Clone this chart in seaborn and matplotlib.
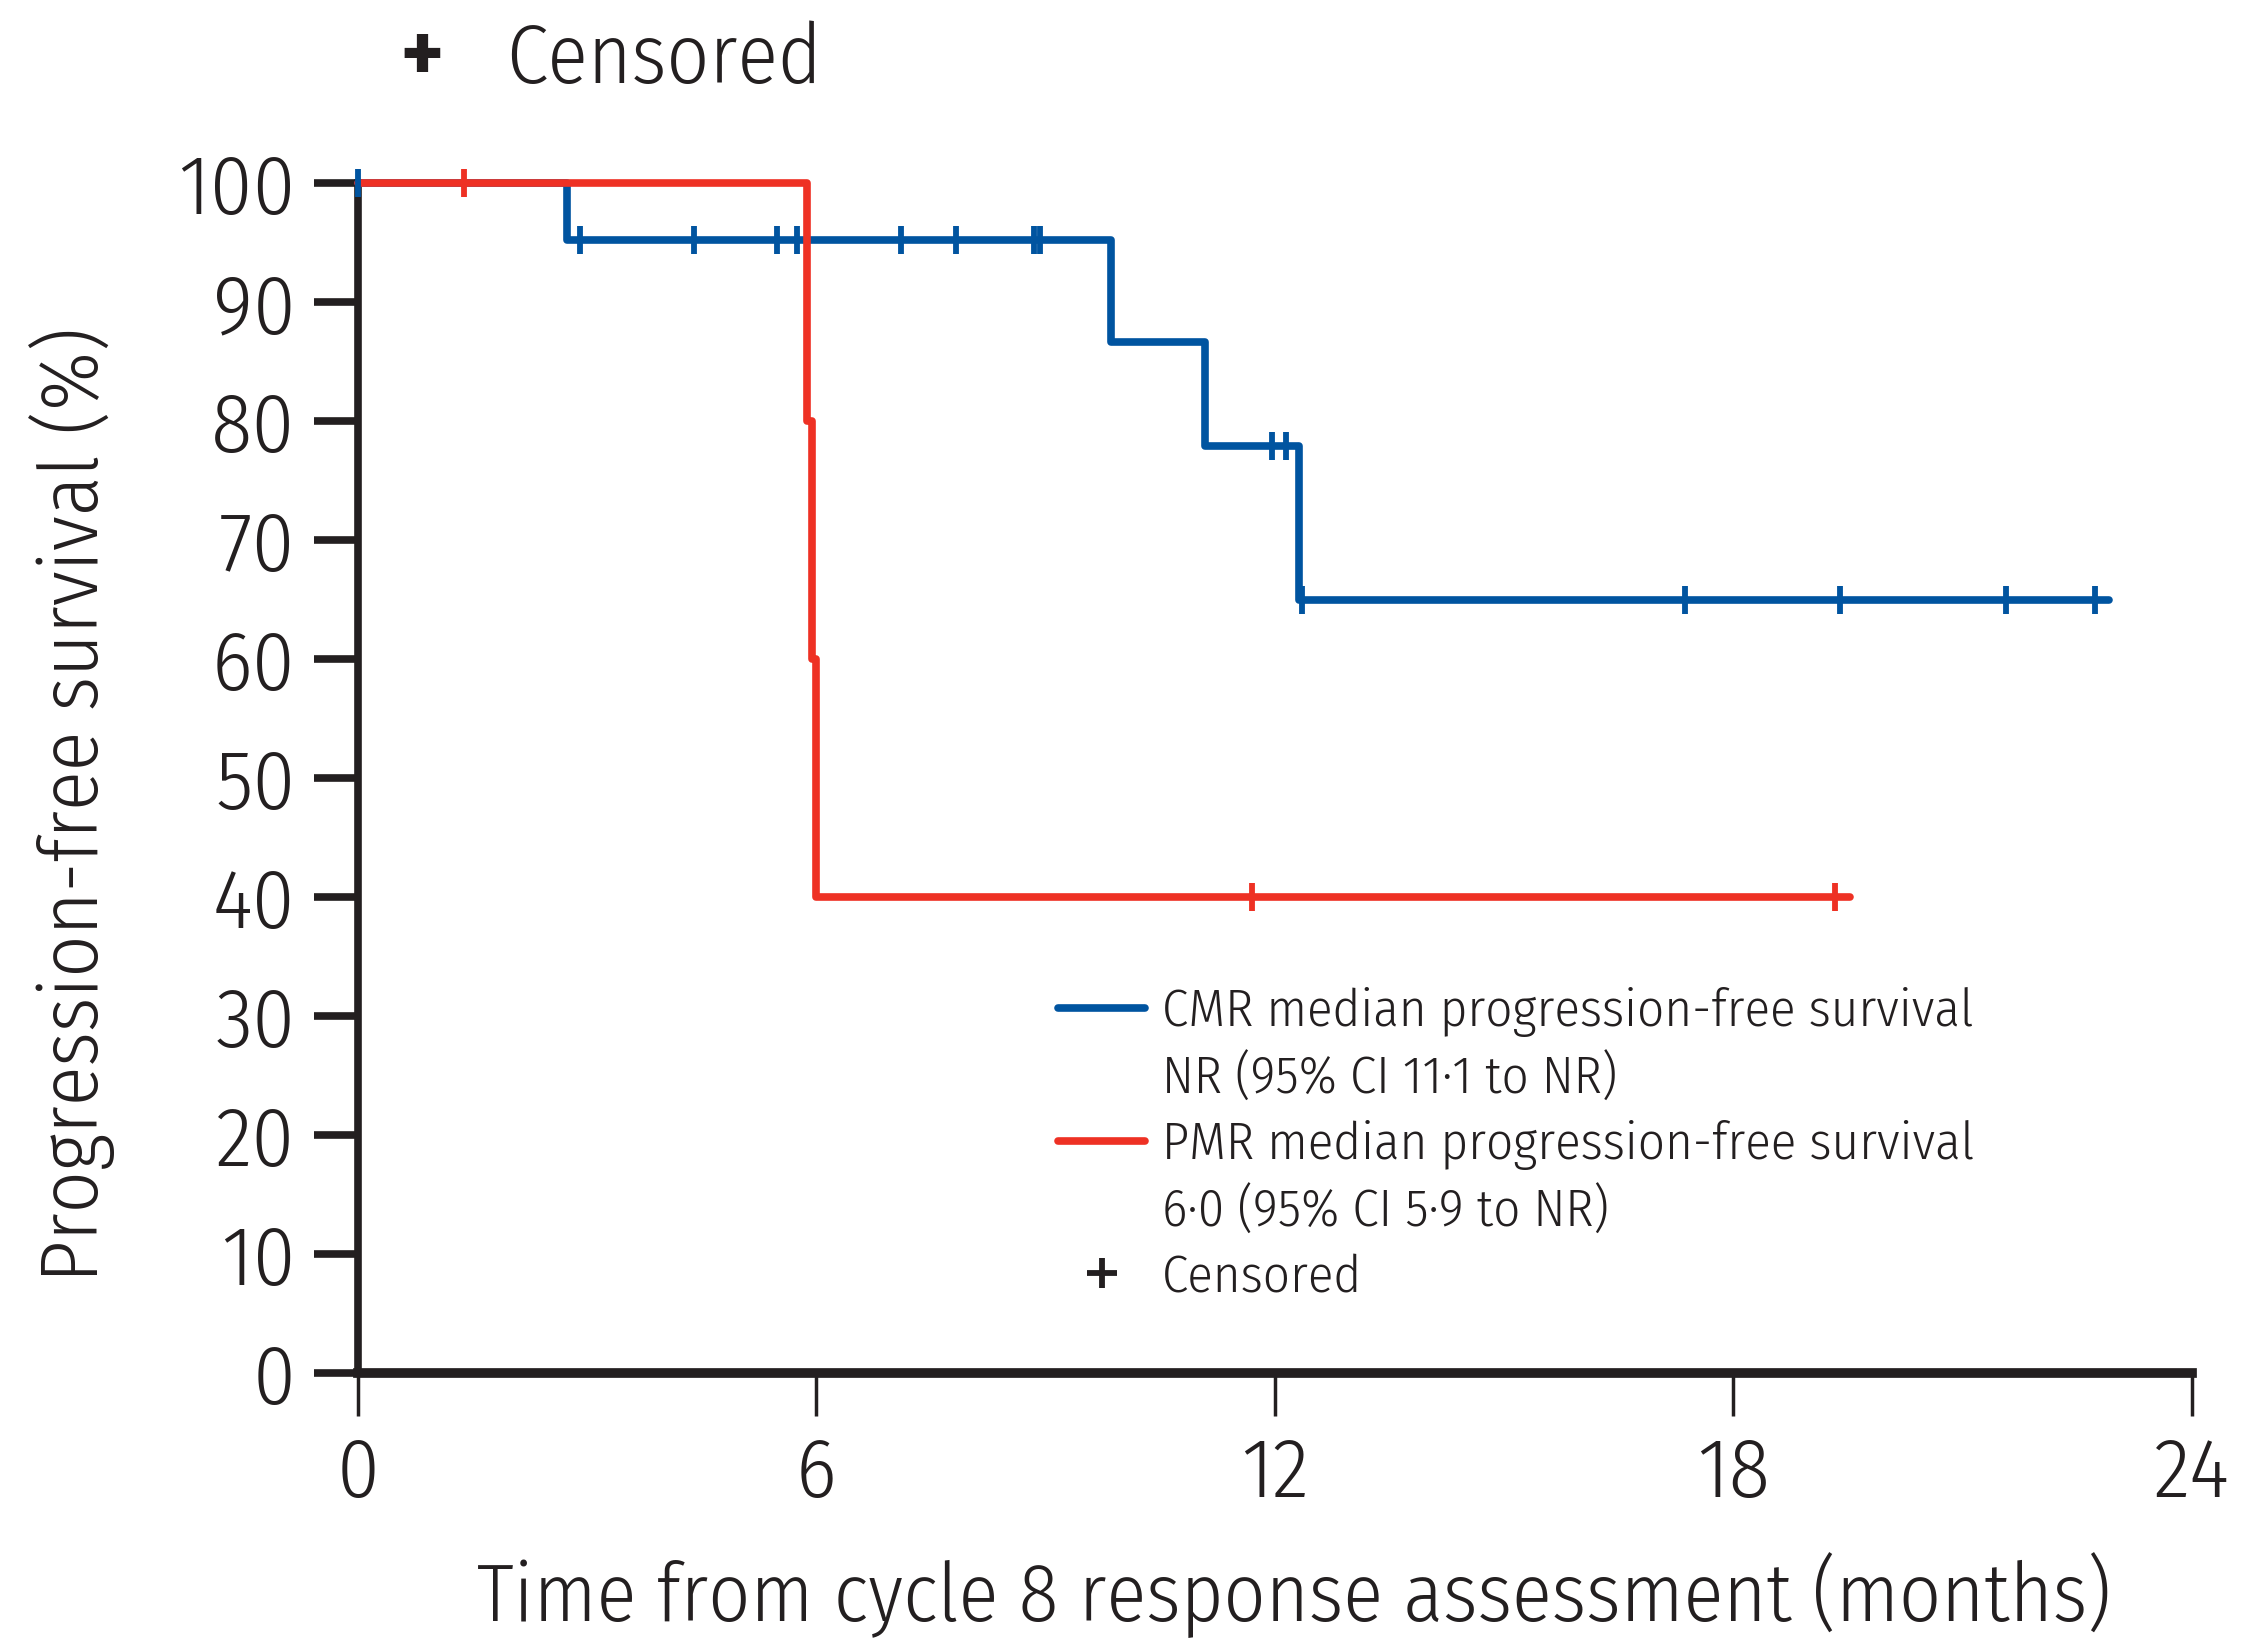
import numpy as np
import pandas as pd
import matplotlib
matplotlib.use("Agg")
import matplotlib.pyplot as plt
from matplotlib.lines import Line2D
import seaborn as sns

# ---- data (months, % progression-free) ----
cmr_times = [0.0, 2.74, 9.85, 11.08, 12.32, 22.92]
cmr_surv = [100.0, 95.2, 86.6, 77.9, 65.0, 65.0]
cmr_censored = [0.0, 2.90, 4.40, 5.48, 5.74, 7.10, 7.82, 8.85, 8.93,
                11.96, 12.14, 12.35, 17.37, 19.39, 21.57, 22.73]

pmr_times = [0.0, 5.88, 5.94, 6.00, 19.52]
pmr_surv = [100.0, 80.0, 60.0, 40.0, 40.0]
pmr_censored = [1.39, 11.70, 19.33]

groups = ["CMR", "PMR"]
legend_labels = [
    "CMR median progression-free survival",
    "NR (95% CI 11\u00b71 to NR)",
    "PMR median progression-free survival",
    "6\u00b70 (95% CI 5\u00b79 to NR)",
    "Censored",
]
x_ticks = [0, 6, 12, 18, 24]
y_ticks = [0, 10, 20, 30, 40, 50, 60, 70, 80, 90, 100]

BLUE = "#0054a0"
RED = "#ee3124"
INK = "#231f20"
palette = {"CMR": BLUE, "PMR": RED}


def step_value(times, surv, t):
    idx = np.searchsorted(times, t, side="right") - 1
    return np.asarray(surv)[idx]


curves = pd.concat([
    pd.DataFrame({"time": cmr_times, "pfs": cmr_surv, "group": "CMR"}),
    pd.DataFrame({"time": pmr_times, "pfs": pmr_surv, "group": "PMR"}),
], ignore_index=True)

marks = pd.concat([
    pd.DataFrame({"time": cmr_censored,
                  "pfs": step_value(cmr_times, cmr_surv, cmr_censored),
                  "group": "CMR"}),
    pd.DataFrame({"time": pmr_censored,
                  "pfs": step_value(pmr_times, pmr_surv, pmr_censored),
                  "group": "PMR"}),
], ignore_index=True)

sns.set_theme(style="white")
plt.rcParams["font.family"] = ["Fira Sans Condensed", "DejaVu Sans"]
plt.rcParams["font.weight"] = 300
plt.rcParams["axes.labelweight"] = 300

fig = plt.figure(figsize=(22.54, 16.44), dpi=100)
ax = fig.add_axes([0.1588, 0.1648, 0.8137, 0.7239])

sns.lineplot(data=curves, x="time", y="pfs", hue="group", palette=palette,
             drawstyle="steps-post", estimator=None, sort=False,
             linewidth=5.5, legend=False, ax=ax, clip_on=False, zorder=3)
for g in groups:
    sub = marks[marks.group == g]
    ax.scatter(sub.time, sub.pfs, marker="|", s=420, linewidths=4.2,
               color=palette[g], clip_on=False, zorder=4)

ax.set_xlim(0, 24)
ax.set_ylim(0, 100)
ax.set_xticks(x_ticks)
ax.set_yticks(y_ticks)
ax.tick_params(axis="y", length=32, width=5.5, color=INK, labelsize=61,
               labelcolor=INK, pad=13, left=True)
ax.tick_params(axis="x", length=31, width=2.5, color=INK, labelsize=61,
               labelcolor=INK, pad=13, bottom=True)
for s in ("top", "right"):
    ax.spines[s].set_visible(False)
ax.spines["left"].set_linewidth(5.5)
ax.spines["bottom"].set_linewidth(7)
for s in ("left", "bottom"):
    ax.spines[s].set_color(INK)
    ax.spines[s].set_zorder(2)

ax.set_xlabel("Time from cycle 8 response assessment (months)",
              fontsize=59, color=INK, fontweight=300)
ax.xaxis.set_label_coords(0.5104, -0.15)
ax.set_ylabel("Progression-free survival (%)", fontsize=59, color=INK,
              fontweight=300)
ax.yaxis.set_label_coords(-0.1325, 0.4777)

blank = Line2D([], [], color="none")
handles = [Line2D([], [], color=BLUE, linewidth=5.5), blank,
           Line2D([], [], color=RED, linewidth=5.5), blank,
           Line2D([], [], color=INK, marker="+", linestyle="none",
                  markersize=21, markeredgewidth=4.2)]
ax.legend(handles, legend_labels, loc="upper left",
          bbox_to_anchor=(0.3817, 0.324), frameon=False, fontsize=38,
          handlelength=1.65, handletextpad=0.32, labelspacing=0.30,
          labelcolor=INK, borderpad=0, borderaxespad=0)

fig.text(0.187, 0.9495, "+", fontsize=64, fontweight="bold", color=INK,
         ha="center", va="baseline")
fig.text(0.2245, 0.9495, "Censored", fontsize=60, color=INK,
         ha="left", va="baseline")

fig.savefig("out.png", dpi=100)
